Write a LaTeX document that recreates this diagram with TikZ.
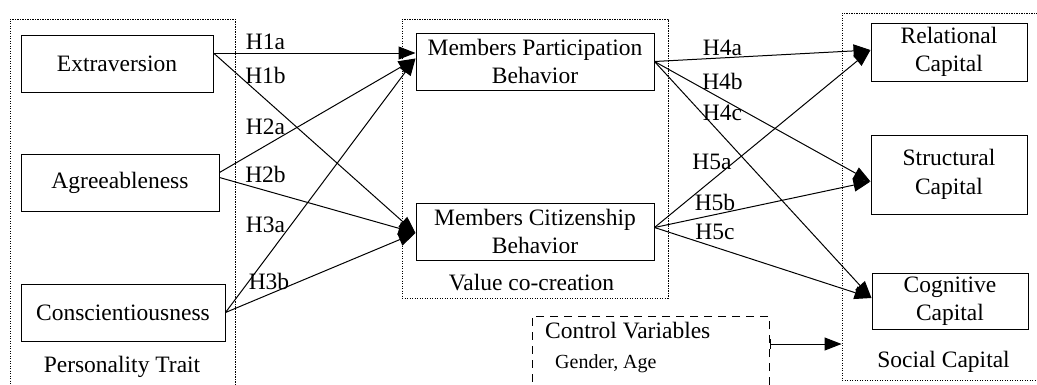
\documentclass[tikz,border=0pt]{standalone}
\usepackage{fontspec}
\setmainfont{Liberation Serif}
\usetikzlibrary{arrows.meta,calc}
\begin{document}
\begin{tikzpicture}[x=1pt,y=-1pt,
  box/.style={draw,line width=1pt,inner sep=0pt,align=center,font=\fontsize{23.5}{28.5}\selectfont},
  grp/.style={draw,line width=0.9pt,dash pattern=on 1.2pt off 1.3pt,inner sep=0pt},
  ctl/.style={draw,line width=1pt,dash pattern=on 8pt off 6pt,inner sep=0pt},
  lbl/.style={inner sep=0pt,font=\fontsize{23.5}{28.5}\selectfont},
  small/.style={inner sep=0pt,font=\fontsize{20}{24}\selectfont},
  arr/.style={line width=1pt,-{Triangle[length=17pt,width=13pt]}},
  barr/.style={line width=1pt,{Bar[width=10pt]}-{Triangle[length=17pt,width=13pt]}}]
\clip (0,0) rectangle (1037,384);
\fill[white] (0,0) rectangle (1037,384);

% group boxes
\node[grp,minimum width=225pt,minimum height=381pt] (pers) at (122.5,209.5) {};
\node[grp,minimum width=266pt,minimum height=279pt] (vcc) at (535,158.5) {};
\node[grp,minimum width=203pt,minimum height=367pt] (soc) at (943.5,196.5) {};
\node[ctl,minimum width=237pt,minimum height=84pt] (ctrl) at (650.5,358) {};

% group titles
\node[lbl] (perst) at (122,366.5) {Personality Trait};
\node[lbl] (vcct) at (531.5,282.5) {Value co-creation};
\node[lbl] (soct) at (943.5,361.5) {Social Capital};
\node[lbl,anchor=west] (ctrlt) at (545,330.5) {Control Variables};
\node[small,anchor=west] (ctrlv) at (555,364) {Gender, Age};

% boxes
\node[box,minimum width=192pt,minimum height=57pt] (ext) at (117,63.5) {Extraversion};
\node[box,minimum width=198pt,minimum height=57pt] (agr) at (120,182.5) {Agreeableness};
\node[box,minimum width=204pt,minimum height=57pt] (con) at (123,312.5) {Conscientiousness};
\node[box,minimum width=238pt,minimum height=57pt] (mpb) at (535,61.5) {Members Participation\\Behavior};
\node[box,minimum width=238pt,minimum height=57pt] (mcb) at (535,231.5) {Members Citizenship\\Behavior};
\node[box,minimum width=156pt,minimum height=58pt] (rel) at (949,52) {Relational\\Capital};
\node[box,minimum width=156pt,minimum height=79pt] (str) at (949,174.5) {Structural\\Capital};
\node[box,minimum width=156pt,minimum height=56pt] (cog) at (950,301) {Cognitive\\Capital};

% connectors
\draw[arr] ($(ext.east)+(0,-10.5)$) -- ($(mpb.west)+(0,-8.5)$);
\draw[arr] ($(ext.east)+(0,-10.5)$) -- ($(mcb.west)+(0,1.5)$);
\draw[arr] ($(agr.east)+(0,-10)$) -- ($(mpb.west)+(0,-3)$);
\draw[arr] ($(agr.east)+(0,-5)$) -- ($(mcb.west)+(0,1.5)$);
\draw[arr] (con.east) -- ($(mpb.west)+(0,-3)$);
\draw[arr] (con.east) -- ($(mcb.west)+(0,1.5)$);

\draw[arr] (mpb.east) -- ($(rel.west)+(0,-2)$);
\draw[arr] (mpb.east) -- ($(str.west)+(0,7)$);
\draw[arr] (mpb.east) -- ($(cog.west)+(0,-3)$);
\draw[arr] ($(mcb.east)+(0,-4)$) -- ($(rel.west)+(0,-2)$);
\draw[arr] ($(mcb.east)+(0,-4)$) -- ($(str.west)+(0,7)$);
\draw[arr] ($(mcb.east)+(0,-4)$) -- ($(cog.west)+(0,-3)$);

\draw[barr] ($(ctrl.east)+(0,-14)$) coordinate (cs) -- (cs -| soc.west);

% labels
\node[lbl] (h1a) at (265.5,42) {H1a};
\node[lbl] (h1b) at (265.5,75) {H1b};
\node[lbl] (h2a) at (265.5,127) {H2a};
\node[lbl] (h2b) at (265.5,174) {H2b};
\node[lbl] (h3a) at (265.5,225) {H3a};
\node[lbl] (h3b) at (269,281) {H3b};
\node[lbl] (h4a) at (722.5,48) {H4a};
\node[lbl] (h4b) at (722.5,81) {H4b};
\node[lbl] (h4c) at (722.5,113) {H4c};
\node[lbl] (h5a) at (712,162) {H5a};
\node[lbl] (h5b) at (715,202) {H5b};
\node[lbl] (h5c) at (715,232) {H5c};
\end{tikzpicture}
\end{document}
